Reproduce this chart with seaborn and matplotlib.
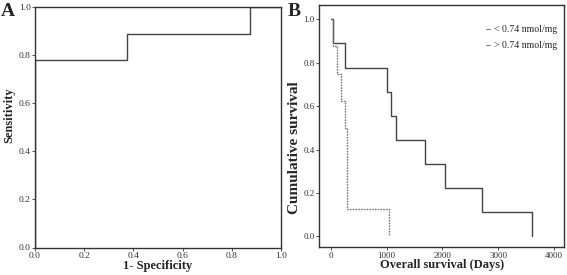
import numpy as np
import pandas as pd
import seaborn as sns
import matplotlib.pyplot as plt

# Panel A: ROC curve (step points)
roc_fpr = [0.0, 0.0, 0.375, 0.875, 1.0]
roc_tpr = [0.0, 0.778, 0.889, 1.0, 1.0]

# Panel B: Kaplan-Meier steps, survival after each event
low_days = [0, 41, 251, 1011, 1072, 1162, 1688, 2047, 2706, 3614]
low_surv = [1.0, 0.889, 0.778, 0.667, 0.556, 0.444, 0.333, 0.222, 0.111, 0.0]
high_days = [0, 31, 102, 180, 251, 293, 1041]
high_surv = [1.0, 0.875, 0.75, 0.625, 0.5, 0.125, 0.0]
groups = ["< 0.74 nmol/mg", "> 0.74 nmol/mg"]

sns.set_style("ticks")
plt.rcParams["font.family"] = ["Liberation Serif", "DejaVu Serif"]
plt.rcParams["axes.edgecolor"] = "#333333"
plt.rcParams["axes.linewidth"] = 1.0
plt.rcParams["xtick.color"] = "#333333"
plt.rcParams["ytick.color"] = "#333333"
plt.rcParams["xtick.major.size"] = 2
plt.rcParams["ytick.major.size"] = 2
plt.rcParams["xtick.major.width"] = 0.6
plt.rcParams["ytick.major.width"] = 0.6
plt.rcParams["xtick.major.pad"] = 1.5
plt.rcParams["ytick.major.pad"] = 1.0

fig = plt.figure(figsize=(5.67, 2.75), dpi=100)
W, H = 567, 275
axA = fig.add_axes([35 / W, (H - 247.5) / H, (281 - 35) / W, (247.5 - 7) / H])
axB = fig.add_axes([319 / W, (H - 246.7) / H, (564.3 - 319) / W, (246.7 - 5) / H])

# ROC
roc = pd.DataFrame({"fpr": roc_fpr, "tpr": roc_tpr})
sns.lineplot(data=roc, x="fpr", y="tpr", ax=axA, estimator=None,
             drawstyle="steps-post", color="#444444", linewidth=1.0)
axA.set_xlim(0, 1)
axA.set_ylim(0, 1)
axA.set_xticks(np.arange(0, 1.01, 0.2))
axA.set_yticks(np.arange(0, 1.01, 0.2))
axA.tick_params(labelsize=6.8)
axA.set_xlabel("1- Specificity", fontsize=9, fontweight="bold")
axA.set_ylabel("Sensitivity", fontsize=9, fontweight="bold")
axA.xaxis.set_label_coords(0.5, -0.052)
axA.yaxis.set_label_coords(-0.08, 0.55)

# Kaplan-Meier
km = pd.DataFrame({
    "days": low_days + high_days,
    "surv": low_surv + high_surv,
    "group": [groups[0]] * len(low_days) + [groups[1]] * len(high_days),
})
sns.lineplot(data=km, x="days", y="surv", hue="group", style="group", ax=axB,
             estimator=None, drawstyle="steps-post",
             palette={groups[0]: "#444444", groups[1]: "#777777"},
             dashes={groups[0]: "", groups[1]: (1.2, 0.8)}, linewidth=1.0)
axB.set_xlim(-215, 4189)
axB.set_ylim(-0.047, 1.066)
axB.set_xticks([0, 1000, 2000, 3000, 4000])
axB.set_yticks(np.arange(0, 1.01, 0.2))
axB.set_yticklabels([f"{v:.1f}" for v in np.arange(0, 1.01, 0.2)])
axB.tick_params(labelsize=6.5)
axB.set_xlabel("Overall survival (Days)", fontsize=9, fontweight="bold")
axB.set_ylabel("Cumulative survival", fontsize=11, fontweight="bold")
axB.xaxis.set_label_coords(0.5, -0.05)
axB.yaxis.set_label_coords(-0.072, 0.41)
leg = axB.legend(loc="upper right", bbox_to_anchor=(1.0, 0.945), frameon=False,
                 fontsize=7, handlelength=0.5, handletextpad=0.4,
                 labelspacing=0.75, borderaxespad=0.3)
for h in leg.get_lines():
    h.set_linestyle("-")
    h.set_color("#777777")
    h.set_linewidth(0.7)

for ax in (axA, axB):
    for s in ax.spines.values():
        s.set_visible(True)

fig.text(0.5 / W, (H - 16) / H, "A", fontsize=14, fontweight="bold")
fig.text(288 / W, (H - 16) / H, "B", fontsize=14, fontweight="bold")

fig.savefig("out.png", dpi=100)
